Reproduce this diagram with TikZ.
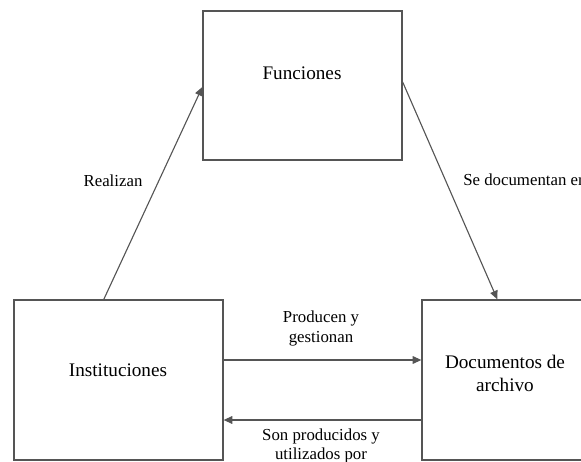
\documentclass[tikz,border=0pt]{standalone}
\usepackage{fontspec}
\setmainfont{Liberation Serif}
\usetikzlibrary{arrows.meta, calc}
\definecolor{linegrey}{HTML}{555555}
\tikzset{
  >={Triangle[length=5.4pt, width=4.8pt]},
  box/.style={rectangle, draw=linegrey, line width=0.8pt, inner sep=0pt},
  boxtxt/.style={align=center, font=\fontsize{12}{14.4}\selectfont, inner sep=0pt},
  flow/.style={->, line width=0.7pt, draw=linegrey},
  lbl/.style={align=center, font=\fontsize{10.5}{11.9}\selectfont, inner sep=0pt},
}
\begin{document}
\begin{tikzpicture}[x=0.625pt, y=-0.625pt]
  \useasboundingbox (0,0) rectangle (581,462);
  \clip (0,0) rectangle (581,462);
  % boxes
  \node[box, minimum width=124.4pt, minimum height=93.1pt] (func) at (302.5,85.5) {};
  \node[box, minimum width=130.6pt, minimum height=100pt] (inst) at (118.5,380) {};
  \node[box, minimum width=104.4pt, minimum height=100pt] (doc) at (505.5,380) {};
  \node[boxtxt] (functxt) at (302,73) {Funciones};
  \node[boxtxt] (insttxt) at (118,370) {Instituciones};
  \node[boxtxt] (doctxt) at (505,373.5) {Documentos de\\archivo};
  % connectors
  \draw[flow] ($(inst.north west)!0.43!(inst.north east)$) -- ($(func.west)+(0,1.5)$);
  \draw[flow] ($(func.east)+(0,-3.5)$) -- ($(doc.north west)+(76,0)$);
  \draw[flow] ($(inst.east)+(0,-20)$) -- ($(doc.west)+(0,-20)$);
  \draw[flow] ($(doc.west)+(0,40)$) -- ($(inst.east)+(0,40)$);
  % labels
  \node[lbl] (realizan) at (113,181) {Realizan};
  \node[lbl, anchor=west] (sedoc) at (463,180) {Se documentan en};
  \node[lbl] (producen) at (321,328.5) {Producen y\\gestionan};
  \node[lbl] (son) at (321,445.5) {Son producidos y\\utilizados por};
\end{tikzpicture}
\end{document}
